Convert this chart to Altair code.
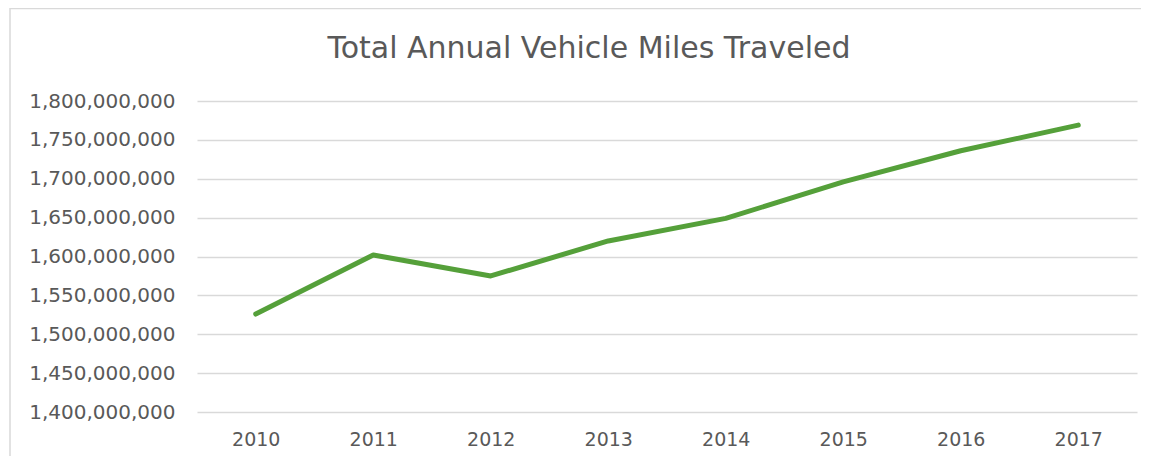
import altair as alt
import pandas as pd

years = ["2010", "2011", "2012", "2013", "2014", "2015", "2016", "2017"]
miles = [1526000000, 1602000000, 1575000000, 1620000000, 1649000000,
         1696000000, 1736000000, 1769000000]
y_ticks = [1400000000, 1450000000, 1500000000, 1550000000, 1600000000,
           1650000000, 1700000000, 1750000000, 1800000000]
title_text = "Total Annual Vehicle Miles Traveled"

df = pd.DataFrame({"year": years, "miles": miles})

FONT = "DejaVu Sans"
GREY = "#595959"
GRID = "#D9D9D9"
W, H = 940, 311

line = alt.Chart(df).mark_line(
    color="#55A03A", strokeWidth=5, strokeCap="round", strokeJoin="round"
).encode(
    x=alt.X("year:O", scale=alt.Scale(type="point", padding=0.5),
            axis=alt.Axis(title=None, labelAngle=0, labelFontSize=19,
                          labelColor=GREY, labelFont=FONT, labelPadding=18,
                          ticks=False, domain=False)),
    y=alt.Y("miles:Q", scale=alt.Scale(domain=[1400000000, 1800000000], nice=False),
            axis=alt.Axis(title=None, values=y_ticks, format=",.0f",
                          labelFontSize=20, labelColor=GREY, labelFont=FONT,
                          labelPadding=22, ticks=False, domain=False,
                          grid=True, gridColor=GRID, gridWidth=1.5)),
)

title = alt.Chart(pd.DataFrame({"t": [title_text]})).mark_text(
    font=FONT, fontSize=30, color=GREY, align="center", baseline="alphabetic"
).encode(text="t:N", x=alt.value(392), y=alt.value(-43))

border_left = alt.Chart(pd.DataFrame({"a": [0]})).mark_rule(
    color=GRID, strokeWidth=1.5
).encode(x=alt.value(-187), y=alt.value(-93), y2=alt.value(360))

border_top = alt.Chart(pd.DataFrame({"a": [0]})).mark_rule(
    color=GRID, strokeWidth=1.5
).encode(x=alt.value(-187), x2=alt.value(960), y=alt.value(-92.5))

chart = alt.layer(border_left, border_top, line, title).properties(
    width=W, height=H,
    background="white",
    autosize=alt.AutoSizeParams(type="none"),
    padding={"left": 189, "top": 93, "right": 4, "bottom": 44},
).configure_view(strokeWidth=0, stroke="transparent")

chart.save("out.html", embed_options={"renderer": "svg", "actions": False})
